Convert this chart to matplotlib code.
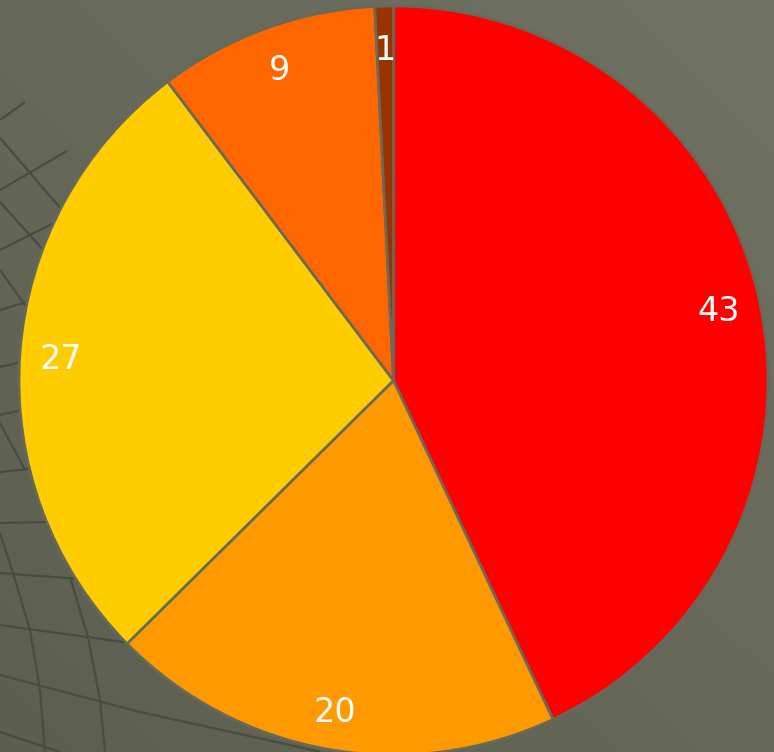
import matplotlib
matplotlib.use("Agg")
import matplotlib.pyplot as plt
import numpy as np

# slice data, clockwise from 12 o'clock (sizes read off the wedges,
# labels are the rounded numbers printed on them)
sizes = [43.0, 19.6, 27.1, 9.5, 0.8]
labels = ["43", "20", "27", "9", "1"]
colors = ["#FF0000", "#FF9900", "#FFCC00", "#FF6600", "#993300"]

W, H = 774, 752
fig = plt.figure(figsize=(W / 100, H / 100), dpi=100)

# background: slide-style gradient, lighter top-right, darker bottom-left
bg = fig.add_axes([0, 0, 1, 1])
yy, xx = np.mgrid[0:1:200j, 0:1:200j]
t = (xx + yy) / 2  # 0 at bottom-left, 1 at top-right (origin="lower")
c0 = np.array([0x5C, 0x5E, 0x50]) / 255
c1 = np.array([0x70, 0x73, 0x63]) / 255
img = c0 + (c1 - c0) * t[..., None]
bg.imshow(img, extent=[0, W, 0, H], origin="lower", aspect="auto")

# decorative grid lines in the lower-left (pixel coords, y from top)
deco = [
    [(0, 120), (25, 102)],
    [(0, 190), (67, 151)],
    [(0, 250), (60, 220)],
    [(0, 310), (30, 301)],
    [(0, 367), (22, 362)],
    [(0, 415), (22, 410)],
    [(0, 472), (40, 468)],
    [(0, 523), (50, 522)],
    [(0, 573), (80, 579)],
    [(0, 625), (130, 643)],
    [(0, 675), (140, 712), (290, 745), (320, 752)],
    [(0, 732), (60, 752)],
    [(0, 138), (62, 210)],
    [(0, 202), (45, 252)],
    [(0, 270), (30, 312)],
    [(0, 423), (25, 470)],
    [(0, 533), (13, 573), (30, 630), (40, 690), (45, 752)],
    [(70, 577), (88, 637), (100, 700), (105, 752)],
]
for pts in deco:
    xs = [p[0] for p in pts]
    ys = [H - p[1] for p in pts]
    bg.plot(xs, ys, color="#4A4C40", lw=1.6, solid_capstyle="butt")
bg.set_xlim(0, W)
bg.set_ylim(0, H)
bg.axis("off")

# pie: center (393.5, 380.5) px, radius 374.5 px
cx, cy, r = 393.5, 380.5, 374.5
ax = fig.add_axes([(cx - r) / W, (H - cy - r) / H, 2 * r / W, 2 * r / H])
ax.set_facecolor("none")
wedges, texts = ax.pie(sizes, labels=labels, colors=colors, startangle=90,
                       counterclock=False, labeldistance=0.89, radius=1,
                       wedgeprops=dict(edgecolor="#676A5A", linewidth=1.9),
                       textprops=dict(color="white", fontsize=24,
                                      family="DejaVu Sans"))
for tx in texts:
    tx.set_ha("center")
    tx.set_va("center_baseline")
ax.set_xlim(-1, 1)
ax.set_ylim(-1, 1)
ax.set_aspect("equal")
ax.axis("off")

fig.savefig("out.png", dpi=100)
